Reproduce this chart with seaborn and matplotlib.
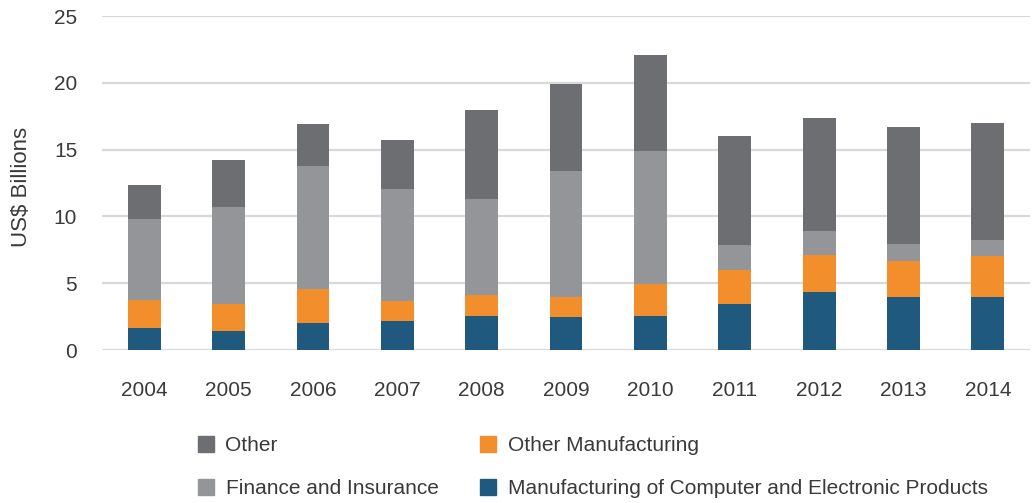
import numpy as np
import pandas as pd
import matplotlib
matplotlib.use("Agg")
import matplotlib.pyplot as plt
from matplotlib.patches import Patch
import seaborn as sns

years = ["2004", "2005", "2006", "2007", "2008", "2009", "2010", "2011", "2012", "2013", "2014"]
mfg_computer = [1.62, 1.45, 2.05, 2.17, 2.54, 2.50, 2.57, 3.44, 4.34, 3.94, 3.99]
other_mfg = [2.12, 1.99, 2.49, 1.52, 1.60, 1.50, 2.35, 2.55, 2.77, 2.75, 3.05]
finance = [6.06, 7.29, 9.26, 8.34, 7.16, 9.40, 9.98, 1.87, 1.82, 1.22, 1.19]
other = [2.55, 3.47, 3.10, 3.67, 6.70, 6.50, 7.18, 8.16, 8.46, 8.81, 8.74]

series_names = ["Manufacturing of Computer and Electronic Products", "Other Manufacturing",
                "Finance and Insurance", "Other"]
colors = {"Other": "#6d6e71", "Finance and Insurance": "#939598",
          "Other Manufacturing": "#f28e2b", "Manufacturing of Computer and Electronic Products": "#1f5a7e"}

sns.set_theme(style="white")
plt.rcParams['font.family'] = ['Liberation Sans', 'DejaVu Sans']

fig = plt.figure(figsize=(10.32, 5.03), dpi=100)
ax = fig.add_axes([0.099, 0.304, 0.899, 0.664])

layers = [mfg_computer, other_mfg, finance, other]
cum = np.cumsum(np.array(layers), axis=0)
for i in range(len(layers) - 1, -1, -1):
    df = pd.DataFrame({"year": years, "value": cum[i]})
    sns.barplot(data=df, x="year", y="value", color=colors[series_names[i]],
                width=0.39, ax=ax, saturation=1, linewidth=0, zorder=3)

ax.set_ylim(0, 25)
ax.set_xlim(-0.5, 10.5)
ax.set_yticks([0, 5, 10, 15, 20, 25])
ax.yaxis.grid(True, color="#d9d9d9", linewidth=1.6, zorder=0)
ax.set_axisbelow(True)
for s in ax.spines.values():
    s.set_visible(False)
ax.tick_params(axis="both", length=0, labelsize=15, colors="#3a3a3a")
ax.tick_params(axis="x", pad=22)
ax.tick_params(axis="y", pad=18)
ax.set_xlabel("")
ax.set_ylabel("")
fig.text(22 / 1032, 1 - 187 / 503, "US$ Billions", rotation=90, ha="center", va="center",
         fontsize=16, color="#3a3a3a")

handles = [Patch(color=colors["Other"], label="Other"),
           Patch(color=colors["Finance and Insurance"], label="Finance and Insurance"),
           Patch(color=colors["Other Manufacturing"], label="Other Manufacturing"),
           Patch(color=colors["Manufacturing of Computer and Electronic Products"],
                 label="Manufacturing of Computer and Electronic Products")]
fig.legend(handles=handles, ncol=2, loc="upper left", bbox_to_anchor=(198 / 1032, 1 - 436 / 503),
           bbox_transform=fig.transFigure, frameon=False, fontsize=15,
           handlelength=0.77, handleheight=0.77, borderpad=0, borderaxespad=0,
           columnspacing=2.0, labelspacing=1.15, handletextpad=0.55, labelcolor="#3a3a3a")

fig.savefig("out.png", dpi=100)
